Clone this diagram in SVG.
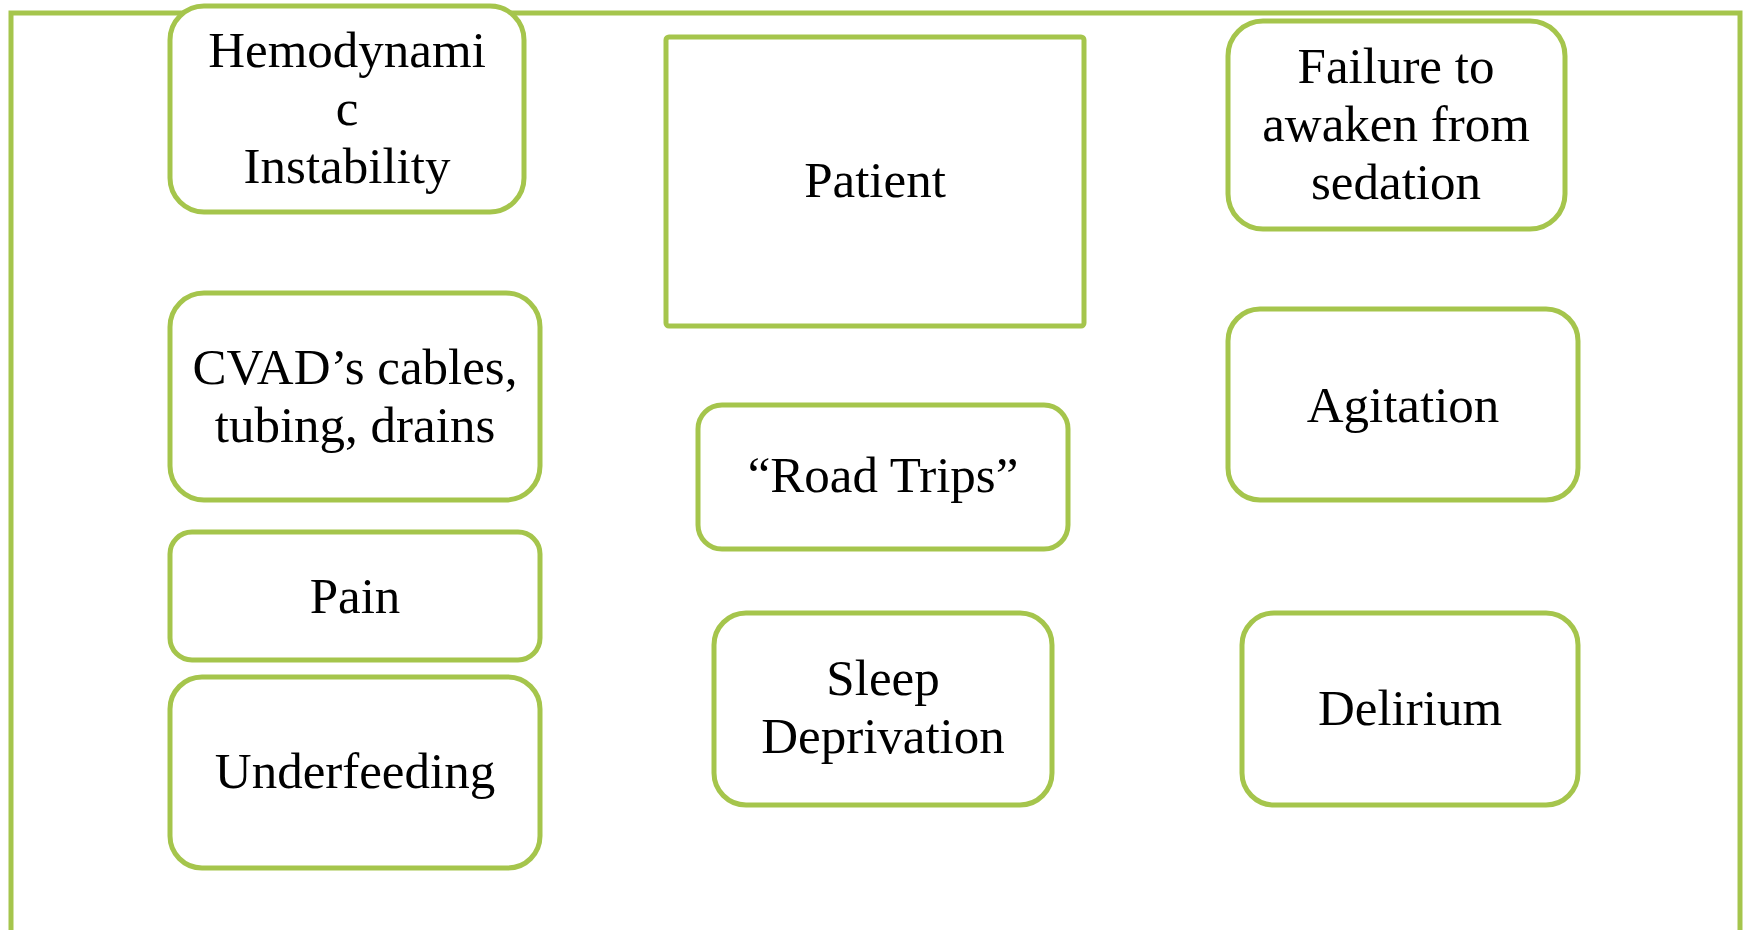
<svg xmlns="http://www.w3.org/2000/svg" width="1743" height="930" viewBox="0 0 1743 930">
<style>
.box{fill:#ffffff;stroke:#a5c54c;stroke-width:5}
.frame{fill:#ffffff;stroke:#a5c54c;stroke-width:5}
text{font-family:"Liberation Serif","DejaVu Serif",serif;font-size:51px;fill:#000000;text-anchor:middle}
</style>
<rect width="1743" height="930" fill="#ffffff"/>
<rect class="frame" x="11" y="13" width="1729" height="1000"/>
<g id="connectors"></g>
<g id="hemodynamic">
<rect class="box" x="170" y="6" width="354" height="206" rx="34"/>
<text x="347" y="67">Hemodynami</text>
<text x="347" y="125">c</text>
<text x="347" y="183">Instability</text>
</g>
<g id="patient">
<rect class="box" x="666" y="37" width="418" height="289" rx="3"/>
<text x="875" y="197">Patient</text>
</g>
<g id="failure">
<rect class="box" x="1228" y="21" width="337" height="208" rx="35"/>
<text x="1396" y="83">Failure to</text>
<text x="1396" y="141">awaken from</text>
<text x="1396" y="199">sedation</text>
</g>
<g id="cvad">
<rect class="box" x="170" y="293" width="370" height="207" rx="34"/>
<text x="355" y="384">CVAD’s cables,</text>
<text x="355" y="442">tubing, drains</text>
</g>
<g id="roadtrips">
<rect class="box" x="698" y="405" width="370" height="144" rx="24"/>
<text x="883" y="492">“Road Trips”</text>
</g>
<g id="agitation">
<rect class="box" x="1228" y="309" width="350" height="191" rx="32"/>
<text x="1403" y="422">Agitation</text>
</g>
<g id="pain">
<rect class="box" x="170" y="532" width="370" height="128" rx="22"/>
<text x="355" y="613">Pain</text>
</g>
<g id="underfeeding">
<rect class="box" x="170" y="677" width="370" height="191" rx="32"/>
<text x="355" y="788">Underfeeding</text>
</g>
<g id="sleep">
<rect class="box" x="714" y="613" width="338" height="192" rx="32"/>
<text x="883" y="695">Sleep</text>
<text x="883" y="753">Deprivation</text>
</g>
<g id="delirium">
<rect class="box" x="1242" y="613" width="336" height="192" rx="32"/>
<text x="1410" y="725">Delirium</text>
</g>
</svg>
